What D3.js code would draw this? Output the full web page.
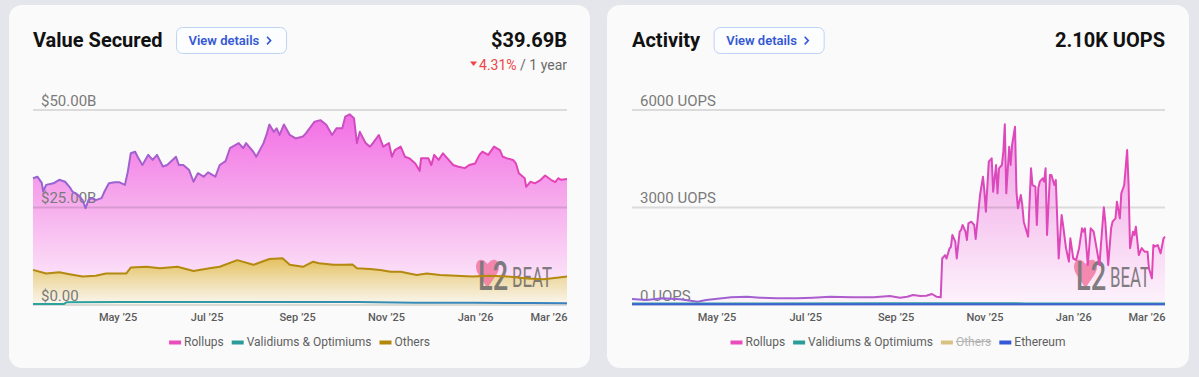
<!DOCTYPE html>
<html>
<head>
<meta charset="utf-8">
<script src="https://cdn.jsdelivr.net/npm/d3@7"></script>
<style>
  html, body { margin: 0; padding: 0; background: #e5e6eb; }
  svg { display: block; font-family: Roboto, "Noto Sans", sans-serif; }
</style>
</head>
<body>
<div id="zona"></div>
<script>
// Rango de fechas del grafico (un año)
var inicio = new Date(2025, 2, 4);
var fin = new Date(2026, 2, 5);
var ticksMeses = [new Date(2025, 4, 1), new Date(2025, 6, 1), new Date(2025, 8, 1),
                  new Date(2025, 10, 1), new Date(2026, 0, 1), new Date(2026, 2, 1)];

// Value Secured, miles de millones de USD: [dias desde inicio, valor]
var rollupsTvs = [[0,32.5],[3,32.9],[6,31.3],[7,29.1],[9,30.8],[14,31.2],[18,32.1],[22,31.6],[25,30.3],[27,29.1],
  [31,28.2],[34,26.9],[36,24.8],[38,26.9],[40,27.4],[43,26.9],[47,27.4],[49,29.1],[52,31.2],[56,31.5],[59,31.5],
  [63,30.8],[65,34.2],[67,38.9],[70,39.3],[72,37.8],[75,35.9],[79,38.5],[82,37.2],[85,38.5],[89,35.5],[92,35.9],
  [98,38.0],[100,35.9],[103,35.9],[107,34.6],[110,31.6],[113,33.8],[117,32.9],[120,34.0],[125,32.9],[128,35.9],
  [132,36.9],[135,40.2],[141,41.5],[144,40.2],[146,41.5],[151,39.3],[153,38.0],[158,41.5],[160,43.6],[162,46.3],
  [165,44.4],[167,45.3],[169,43.6],[172,46.3],[176,43.6],[180,42.7],[185,43.2],[187,44.0],[193,47.0],[197,47.4],
  [201,46.2],[205,43.6],[208,45.3],[212,45.3],[214,48.3],[217,48.9],[220,47.9],[222,41.5],[224,44.4],[228,41.5],
  [231,40.6],[233,41.5],[237,43.6],[240,40.6],[244,41.5],[246,38.0],[248,39.7],[252,40.6],[255,38.0],[258,37.6],
  [262,36.3],[265,34.4],[266,37.6],[271,37.6],[273,35.9],[275,38.5],[278,37.2],[281,38.9],[284,37.6],[288,35.9],
  [291,35.5],[296,35.1],[299,35.9],[303,36.3],[306,38.5],[308,39.3],[312,38.5],[316,40.6],[320,39.7],[322,38.0],
  [325,37.6],[329,37.2],[331,36.3],[333,33.8],[337,32.5],[338,30.3],[341,31.6],[344,31.2],[348,32.1],[351,33.2],
  [355,32.1],[358,31.5],[360,32.5],[362,32.1],[366,32.3]];
var othersTvs = [[0,9.0],[9,8.1],[18,8.4],[25,7.9],[34,7.3],[43,7.5],[50,8.1],[64,8.1],[67,9.6],[78,9.8],[87,9.4],
  [99,9.8],[110,8.7],[121,9.4],[128,9.8],[140,11.5],[151,10.3],[162,11.8],[171,12.0],[176,10.3],[185,9.8],
  [192,11.1],[196,10.7],[206,10.3],[213,10.3],[219,10.4],[222,9.4],[231,9.2],[238,9.0],[245,8.5],[252,8.5],
  [263,7.7],[270,8.1],[279,7.7],[290,7.5],[301,7.3],[313,7.5],[325,7.3],[339,6.8],[350,6.6],[359,7.0],[366,7.3]];
var validiumsTvs = [[0,0.25],[21,0.25],[23,0.7],[60,0.75],[120,0.8],[180,0.8],[222,0.75],[262,0.6],[302,0.55],
  [342,0.5],[366,0.45]];

// Activity, UOPS: [dias desde inicio, valor]
var rollupsUops = [[0,185],[10,154],[21,206],[33,175],[45,102],[51,154],[68,237],[79,255],[88,225],[99,206],
  [113,206],[124,225],[136,255],[151,237],[166,237],[177,277],[184,225],[189,255],[193,308],[198,277],[202,286],
  [206,338],[209,255],[212,237],[213,1431],[215,1533],[216,1431],[218,1739],[219,1790],[220,2154],[222,1948],
  [223,1431],[225,2258],[226,2308],[227,2462],[229,2258],[230,2000],[231,2513],[233,2564],[235,2462],[236,2031],
  [239,3385],[241,3949],[242,3487],[243,2872],[245,4410],[247,4513],[248,3487],[250,4308],[251,3436],[252,4205],
  [254,4308],[255,4718],[256,5563],[257,3436],[259,4871],[260,4308],[261,4923],[263,5487],[264,3487],[265,2975],
  [267,3385],[268,3077],[269,2564],[272,2103],[274,4205],[275,3692],[277,3641],[278,2462],[279,3590],[280,3795],
  [282,3897],[283,3795],[284,4205],[285,2154],[287,3999],[288,3999],[290,3692],[291,3846],[293,1431],[295,2769],
  [296,2462],[298,1749],[300,1334],[301,2052],[303,1431],[305,1385],[307,1749],[309,2359],[310,2257],[311,2359],
  [313,1231],[315,2359],[317,2257],[319,1749],[321,1231],[322,1846],[324,3006],[325,2564],[327,1231],[329,2359],
  [330,2564],[332,2666],[333,3179],[335,2666],[336,3436],[338,3692],[340,4769],[341,3692],[342,1749],[344,2257],
  [345,2154],[346,2410],[348,1539],[350,1749],[352,1641],[354,1641],[355,1128],[357,820],[358,1846],[359,1795],
  [361,1846],[363,1590],[365,2052],[366,2103]];
var validiumsUops = [[0,45],[90,50],[180,55],[270,50],[366,45]];
var ethereumUops = [[0,22],[120,20],[240,25],[366,22]];

// Etiquetas de los ejes y leyendas
var ticksTvs = [0, 25, 50];
var etiquetasTvs = ["$0.00", "$25.00B", "$50.00B"];
var ticksUops = [0, 3000, 6000];
var etiquetasUops = ["0 UOPS", "3000 UOPS", "6000 UOPS"];
var leyendaTvs = [
  {nombre: "Rollups", color: "#ea4cbc"},
  {nombre: "Validiums & Optimiums", color: "#2a9d9a"},
  {nombre: "Others", color: "#b3860c"}];
var leyendaUops = [
  {nombre: "Rollups", color: "#ea4cbc"},
  {nombre: "Validiums & Optimiums", color: "#2a9d9a"},
  {nombre: "Others", color: "#d9c183", oculto: true},
  {nombre: "Ethereum", color: "#3558d8"}];

var svg = d3.select("#zona").append("svg")
  .attr("width", 1199)
  .attr("height", 377);

svg.append("rect").attr("width", 1199).attr("height", 377).attr("fill", "#e5e6eb");
var defs = svg.append("defs");

//crea un degradado lineal con coordenadas absolutas
function degradado(id, x1, y1, x2, y2, paradas) {
  var lg = defs.append("linearGradient").attr("id", id)
    .attr("gradientUnits", "userSpaceOnUse")
    .attr("x1", x1).attr("y1", y1).attr("x2", x2).attr("y2", y2);
  paradas.forEach(function(p) {
    lg.append("stop").attr("offset", p[0]).attr("stop-color", p[1]);
  });
  return "url(#" + id + ")";
}

function dibujarPanel(cfg) {
  var g = svg.append("g");

  //tarjeta de fondo
  g.append("rect")
    .attr("x", cfg.cx).attr("y", 5)
    .attr("width", cfg.cw).attr("height", 363)
    .attr("rx", 13).attr("fill", "#fafafa");

  //escalas
  var x = d3.scaleTime().domain([inicio, fin]).range([cfg.x0, cfg.x1]);
  var y = d3.scaleLinear().domain([0, cfg.yMax]).range([305, 110]);
  var fecha = function(d) { return d3.timeDay.offset(inicio, d[0]); };

  var area = d3.area()
    .x(function(d) { return x(fecha(d)); })
    .y0(y(0))
    .y1(function(d) { return y(d[1]); });
  var linea = d3.line()
    .x(function(d) { return x(fecha(d)); })
    .y(function(d) { return y(d[1]); });

  //cabecera: titulo, boton y valor
  var titulo = g.append("text")
    .attr("x", cfg.x0).attr("y", 47)
    .attr("font-size", 20).attr("font-weight", 700).attr("fill", "#111")
    .text(cfg.titulo);
  var bx = cfg.x0 + titulo.node().getComputedTextLength() + 13.5;
  g.append("rect")
    .attr("x", bx + 0.5).attr("y", 27.5)
    .attr("width", 110).attr("height", 26).attr("rx", 6)
    .attr("fill", "#fcfdff").attr("stroke", "#bfd3f6");
  g.append("text")
    .attr("x", bx + 12.5).attr("y", 45)
    .attr("font-size", 13).attr("font-weight", 600).attr("fill", "#3558d4")
    .text("View details");
  g.append("path")
    .attr("d", "M" + (bx + 91) + ",36.8 l3.6,3.8 l-3.6,3.8")
    .attr("fill", "none").attr("stroke", "#3558d4").attr("stroke-width", 1.6);

  g.append("text")
    .attr("x", cfg.x1).attr("y", 47)
    .attr("text-anchor", "end")
    .attr("font-size", 20).attr("font-weight", 700).attr("fill", "#111")
    .text(cfg.valor);

  if (cfg.cambio) {
    var cambio = g.append("text")
      .attr("x", cfg.x1).attr("y", 69.5)
      .attr("text-anchor", "end").attr("font-size", 14);
    cambio.append("tspan").attr("fill", "#ef4444").text(cfg.cambio);
    cambio.append("tspan").attr("fill", "#6b6b6b").text(" / 1 year");
    var bb = cambio.node().getBBox();
    g.append("path")
      .attr("d", "M" + (bb.x - 9) + ",61.5 h7 l-3.5,4.5 z")
      .attr("fill", "#ef4444");
  }

  //areas rellenas
  cfg.series.filter(function(s) { return s.relleno; }).forEach(function(s) {
    g.append("path").attr("d", area(s.datos)).attr("fill", s.relleno);
  });

  //rejilla y etiquetas del eje y
  g.selectAll(".rejilla").data(cfg.yTicks).enter().append("line")
    .attr("class", "rejilla")
    .attr("x1", cfg.x0).attr("x2", cfg.x1)
    .attr("y1", function(d) { return y(d); })
    .attr("y2", function(d) { return y(d); })
    .attr("stroke", "rgba(0,0,0,0.12)").attr("stroke-width", 2);
  g.selectAll(".etiqueta").data(cfg.yTicks).enter().append("text")
    .attr("class", "etiqueta")
    .attr("x", cfg.x0 + 8)
    .attr("y", function(d) { return y(d) - 4.5; })
    .attr("font-size", 15).attr("fill", "#7a7a7a")
    .text(function(d, i) { return cfg.yEtiquetas[i]; });

  //marca de agua L2BEAT (texto comprimido en horizontal)
  var wm = g.append("g")
    .attr("transform", "translate(" + (cfg.x1 - 91) + ",258)")
    .attr("opacity", 0.78);
  wm.append("path")
    .attr("d", "M11.5,6 C6.5,-1 0,1 0,9 C0,16 7.5,22 11.5,31 C15.5,22 23,16 23,9 C23,1 16.5,-1 11.5,6 Z")
    .attr("fill", "#f2709a");
  wm.append("text")
    .attr("transform", "translate(2,32) scale(0.68,1)")
    .attr("font-size", 40).attr("font-weight", 500)
    .attr("fill", "#5e5e5e").text("L2");
  wm.append("text")
    .attr("transform", "translate(36,29) scale(0.6,1)")
    .attr("font-size", 28)
    .attr("fill", "#5e5e5e").text("BEAT");

  //lineas
  cfg.series.forEach(function(s) {
    g.append("path")
      .attr("d", linea(s.datos))
      .attr("fill", "none")
      .attr("stroke", s.trazo)
      .attr("stroke-width", 2)
      .attr("stroke-linejoin", "round");
  });

  //eje x con los meses
  var ejeX = d3.axisBottom(x).tickValues(ticksMeses).tickSize(0)
    .tickFormat(d3.timeFormat("%b \u2019%y"));
  var gx = g.append("g").attr("transform", "translate(0,310)").call(ejeX);
  gx.select(".domain").remove();
  gx.selectAll("text")
    .attr("font-family", "Roboto, sans-serif")
    .attr("font-size", 11).attr("font-weight", 500).attr("fill", "#5b5b5b");
  gx.selectAll(".tick").filter(function(d, i) { return i == ticksMeses.length - 1; })
    .select("text")
    .attr("text-anchor", "end")
    .attr("x", function(d) { return cfg.x1 - x(d); });

  //leyenda centrada en la tarjeta
  var ley = g.append("g");
  var cursor = 0;
  cfg.leyenda.forEach(function(it) {
    var item = ley.append("g").attr("transform", "translate(" + cursor + ",0)");
    item.append("rect")
      .attr("x", 0).attr("y", -5).attr("width", 12).attr("height", 4)
      .attr("fill", it.color);
    var t = item.append("text")
      .attr("x", 15).attr("y", 0)
      .attr("font-size", 12).attr("fill", it.oculto ? "#b3b3b3" : "#5f5f5f")
      .text(it.nombre);
    var w = t.node().getComputedTextLength();
    if (it.oculto) {
      item.append("line")
        .attr("x1", 15).attr("x2", 15 + w).attr("y1", -4).attr("y2", -4)
        .attr("stroke", "#b3b3b3").attr("stroke-width", 1);
    }
    cursor += 15 + w + 8;
  });
  ley.attr("transform", "translate(" + (cfg.cx + cfg.cw / 2 - (cursor - 8) / 2) + ",345.5)");
}

// Panel izquierdo: Value Secured
dibujarPanel({
  cx: 9, cw: 581, x0: 33, x1: 567,
  titulo: "Value Secured", valor: "$39.69B", cambio: "4.31%",
  yMax: 50, yTicks: ticksTvs, yEtiquetas: etiquetasTvs,
  leyenda: leyendaTvs,
  series: [
    {datos: rollupsTvs,
     relleno: degradado("rfL", 0, 112, 0, 305, [[0, "#f36ce5"], [0.45, "#f6a9ec"], [1, "#fdf4fc"]]),
     trazo: degradado("rtL", 33, 0, 567, 0, [[0, "#9366d3"], [0.45, "#b25bcb"], [0.7, "#dd44bb"], [1, "#e545b6"]])},
    {datos: othersTvs,
     relleno: degradado("ofL", 0, 256, 0, 305, [[0, "#e3be55"], [0.5, "#efdcaa"], [1, "#faf7f0"]]),
     trazo: "#b4890f"},
    {datos: validiumsTvs,
     trazo: degradado("vtL", 33, 0, 567, 0, [[0, "#2ba39b"], [1, "#3a80bf"]])}
  ]
});

// Panel derecho: Activity
dibujarPanel({
  cx: 607, cw: 582, x0: 632, x1: 1165,
  titulo: "Activity", valor: "2.10K UOPS",
  yMax: 6000, yTicks: ticksUops, yEtiquetas: etiquetasUops,
  leyenda: leyendaUops,
  series: [
    {datos: rollupsUops,
     relleno: degradado("rfR", 0, 112, 0, 305, [[0, "#f29be6"], [0.5, "#f6c5ef"], [1, "#fdf3fc"]]),
     trazo: degradado("rtR", 632, 0, 1165, 0, [[0, "#9366d3"], [0.45, "#b25bcb"], [0.62, "#d94abd"], [1, "#e545b6"]])},
    {datos: validiumsUops, trazo: "#2a9d9a"},
    {datos: ethereumUops, trazo: "#3e63d6"}
  ]
});
</script>
</body>
</html>
